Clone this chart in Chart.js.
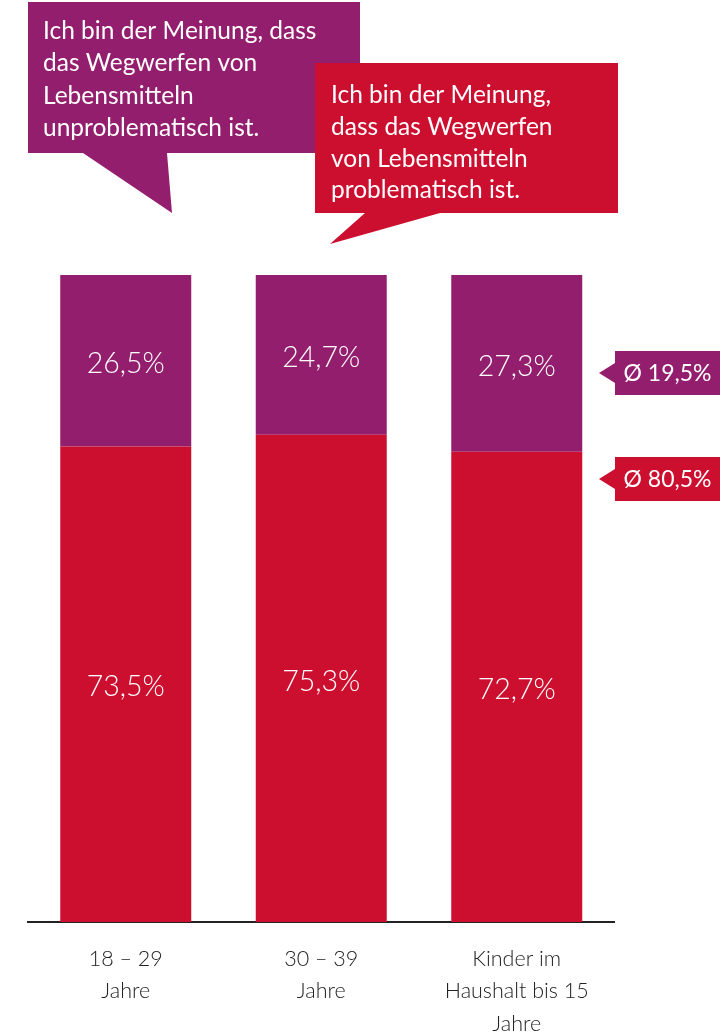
<!DOCTYPE html>
<html>
<head>
<meta charset="utf-8">
<script src="https://cdn.jsdelivr.net/npm/chart.js@4.4.1/dist/chart.umd.min.js"></script>
<style>
  html, body { margin: 0; padding: 0; background: #ffffff; }
  #wrap { width: 725px; height: 1032px; }
</style>
</head>
<body>
<div id="wrap"><canvas id="chart" width="725" height="1032"></canvas></div>
<script>
// Altersgruppen / Haushaltstyp
const categories = [["18 – 29", "Jahre"], ["30 – 39", "Jahre"], ["Kinder im", "Haushalt bis 15", "Jahre"]];
// Anteile in Prozent
const problematisch = [73.5, 75.3, 72.7];
const unproblematisch = [26.5, 24.7, 27.3];
// Durchschnittswerte
const avgUnproblematisch = 19.5;
const avgProblematisch = 80.5;
// Sprechblasen
const calloutUnproblematisch = ["Ich bin der Meinung, dass", "das Wegwerfen von", "Lebensmitteln", "unproblematisch ist."];
const calloutProblematisch = ["Ich bin der Meinung,", "dass das Wegwerfen", "von Lebensmitteln", "problematisch ist."];

const RED = "#CC0E2F";
const PURPLE = "#941E6E";
const FONT = "Lato, 'Open Sans', sans-serif";

function fmt(v) { return v.toFixed(1).replace(".", ",") + "%"; }

const overlay = {
  id: "overlay",
  afterDatasetsDraw(chart) {
    const ctx = chart.ctx;
    ctx.save();

    // Werte in den Balkensegmenten
    ctx.fillStyle = "#ffffff";
    ctx.textAlign = "center";
    ctx.textBaseline = "middle";
    ctx.font = "300 28.5px " + FONT;
    chart.data.datasets.forEach((ds, di) => {
      chart.getDatasetMeta(di).data.forEach((bar, i) => {
        const cy = (bar.y + bar.base) / 2;
        ctx.fillText(fmt(ds.data[i]), bar.x, cy + 3);
      });
    });

    // Sprechblasen
    function bubble(color, box, tail, lines, tx, ty, lh, size) {
      ctx.fillStyle = color;
      ctx.beginPath();
      ctx.moveTo(box[0], box[1]);
      ctx.lineTo(box[2], box[1]);
      ctx.lineTo(box[2], box[3]);
      ctx.lineTo(tail[1], box[3]);
      ctx.lineTo(tail[2], tail[3]);
      ctx.lineTo(tail[0], box[3]);
      ctx.lineTo(box[0], box[3]);
      ctx.closePath();
      ctx.fill();
      ctx.fillStyle = "#ffffff";
      ctx.textAlign = "left";
      ctx.textBaseline = "middle";
      ctx.font = "400 " + size + "px " + FONT;
      lines.forEach((l, k) => ctx.fillText(l, tx, ty + k * lh));
    }
    bubble(PURPLE, [28, 2, 360, 153], [83, 167, 172, 213], calloutUnproblematisch, 43, 31, 32.3, 24.5);
    bubble(RED, [315, 63, 618, 213], [365, 440, 330, 244], calloutProblematisch, 331, 95, 31.8, 24.5);

    // Durchschnittsmarken rechts
    function avgTag(color, y0, y1, value) {
      const x0 = 615, x1 = 720, cy = (y0 + y1) / 2;
      ctx.fillStyle = color;
      ctx.fillRect(x0, y0, x1 - x0, y1 - y0);
      ctx.beginPath();
      ctx.moveTo(x0, cy - 10);
      ctx.lineTo(x0 - 16, cy);
      ctx.lineTo(x0, cy + 10);
      ctx.closePath();
      ctx.fill();
      ctx.fillStyle = "#ffffff";
      ctx.textAlign = "center";
      ctx.textBaseline = "middle";
      ctx.font = "400 23px " + FONT;
      ctx.fillText("Ø " + fmt(value), (x0 + x1) / 2, cy + 1);
    }
    avgTag(PURPLE, 351, 395, avgUnproblematisch);
    avgTag(RED, 457, 501, avgProblematisch);

    ctx.restore();
  }
};

new Chart(document.getElementById("chart"), {
  type: "bar",
  data: {
    labels: categories,
    datasets: [
      { label: "problematisch", data: problematisch, backgroundColor: RED, borderWidth: 0 },
      { label: "unproblematisch", data: unproblematisch, backgroundColor: PURPLE, borderWidth: 0 }
    ]
  },
  options: {
    responsive: false,
    animation: false,
    devicePixelRatio: 1,
    layout: { padding: { top: 275, left: 28, right: 110.5, bottom: 0 } },
    datasets: { bar: { categoryPercentage: 1, barPercentage: 0.67 } },
    plugins: { legend: { display: false }, tooltip: { enabled: false } },
    scales: {
      x: {
        stacked: true,
        grid: { display: false, drawTicks: false },
        border: { display: true, color: "#222222", width: 2 },
        ticks: {
          color: "#222222",
          padding: 21,
          maxRotation: 0,
          autoSkip: false,
          font: { family: FONT, size: 21.5, weight: "300", lineHeight: 1.5 }
        },
        afterFit(scale) { scale.height = 110; }
      },
      y: {
        stacked: true,
        display: false,
        min: 0,
        max: 100
      }
    }
  },
  plugins: [overlay]
});
</script>
</body>
</html>
